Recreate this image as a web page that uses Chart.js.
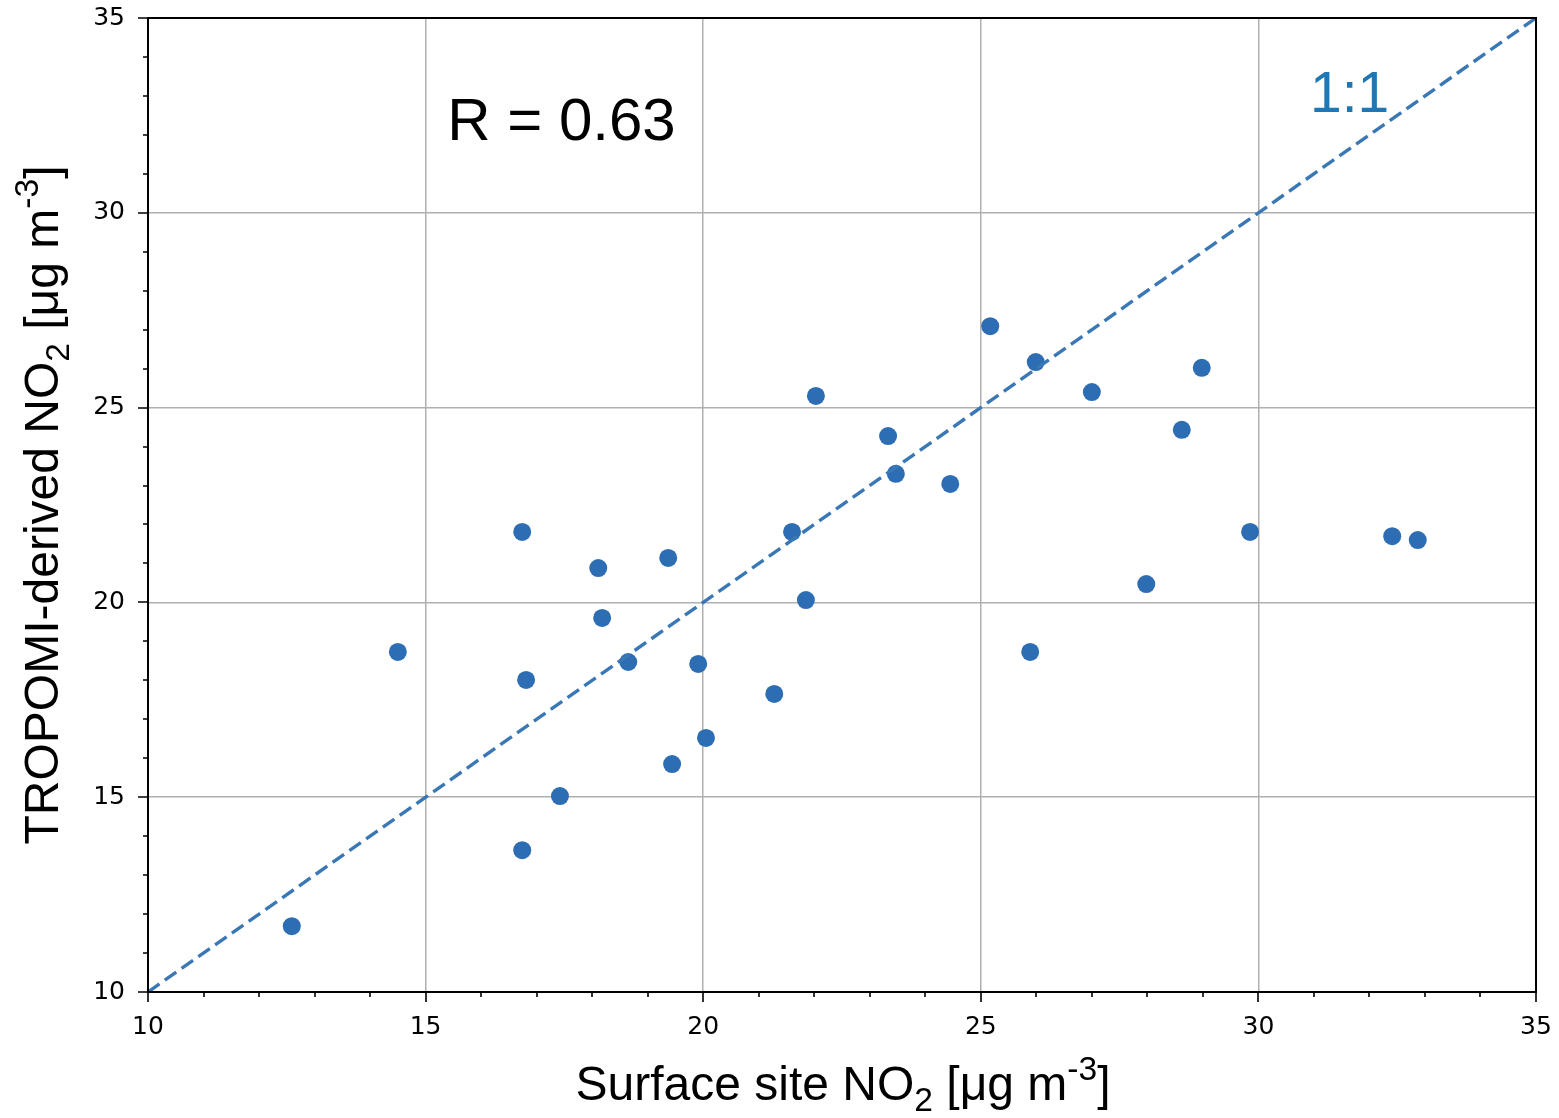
<!DOCTYPE html>
<html>
<head>
<meta charset="utf-8">
<script src="https://cdn.jsdelivr.net/npm/chart.js@4/dist/chart.umd.min.js"></script>
<style>
html, body { margin: 0; padding: 0; background: #fff; }
#caixa { width: 1559px; height: 1118px; }
</style>
</head>
<body>
<div id="caixa"><canvas id="grafico" width="1559" height="1118"></canvas></div>
<script>
// dados
const superficie = [12.59, 14.50, 16.74, 16.81, 16.74, 17.42, 18.11, 18.18, 18.65, 19.37,
    19.44, 19.91, 20.05, 21.28, 21.60, 21.85, 22.03, 23.33, 23.47, 24.45,
    25.17, 25.89, 25.99, 27.00, 27.98, 28.62, 28.98, 29.85, 32.41, 32.87];
const tropomi = [11.69, 18.73, 21.81, 18.01, 13.64, 15.03, 20.88, 19.60, 18.47, 21.14,
    15.85, 18.42, 16.52, 17.65, 21.81, 20.06, 25.30, 24.27, 23.30, 23.04,
    27.09, 18.73, 26.17, 25.40, 20.47, 24.43, 26.02, 21.81, 21.70, 21.60];
const linha11 = [10, 35];
const marcasEixo = [10, 15, 20, 25, 30, 35];
const textoR = 'R = 0.63';
const texto11 = '1:1';

const AZUL = '#2c6db3';
const FONTE = '"Liberation Sans", Arial, sans-serif';

// texto com subscrito / sobrescrito
function desenharRico(ctx, partes, x, y, tam) {
    const medir = p => {
        ctx.font = (p.sub || p.sup ? tam * 0.7 : tam) + 'px ' + FONTE;
        return ctx.measureText(p.t).width;
    };
    let total = 0;
    partes.forEach(p => total += medir(p));
    let cx = x - total / 2;
    ctx.textAlign = 'left';
    ctx.textBaseline = 'alphabetic';
    partes.forEach(p => {
        const w = medir(p);
        let dy = 0;
        if (p.sub) dy = tam * 0.22;
        if (p.sup) dy = -tam * 0.42;
        ctx.fillText(p.t, cx, y + dy);
        cx += w;
    });
}

const extras = {
    id: 'extras',
    afterDraw(chart) {
        const ctx = chart.ctx;
        const a = chart.chartArea;
        const sx = chart.scales.x, sy = chart.scales.y;
        ctx.save();
        // moldura
        ctx.strokeStyle = '#000';
        ctx.lineWidth = 2;
        ctx.strokeRect(a.left, a.top, a.right - a.left, a.bottom - a.top);
        // marcas maiores e menores
        ctx.lineWidth = 1.6;
        ctx.beginPath();
        sx.ticks.forEach(t => {
            const px = Math.round(sx.getPixelForValue(t.value));
            const len = t.value % 5 === 0 ? 10 : 5;
            ctx.moveTo(px, a.bottom); ctx.lineTo(px, a.bottom + len);
        });
        sy.ticks.forEach(t => {
            const py = Math.round(sy.getPixelForValue(t.value));
            const len = t.value % 5 === 0 ? 10 : 5;
            ctx.moveTo(a.left, py); ctx.lineTo(a.left - len, py);
        });
        ctx.stroke();

        // anotações
        ctx.fillStyle = '#000';
        ctx.font = '60px ' + FONTE;
        ctx.textAlign = 'left';
        ctx.textBaseline = 'alphabetic';
        ctx.fillText(textoR, sx.getPixelForValue(15.39), sy.getPixelForValue(31.87));
        ctx.fillStyle = '#1f77b4';
        ctx.font = '57px ' + FONTE;
        ctx.fillText(texto11, sx.getPixelForValue(30.93), sy.getPixelForValue(32.6));

        // títulos dos eixos
        ctx.fillStyle = '#000';
        desenharRico(ctx, [
            { t: 'Surface site NO' }, { t: '2', sub: true }, { t: ' [μg m' }, { t: '-3', sup: true }, { t: ']' }
        ], (a.left + a.right) / 2 + 1, 1100, 48);
        ctx.translate(58, (a.top + a.bottom) / 2);
        ctx.rotate(-Math.PI / 2);
        desenharRico(ctx, [
            { t: 'TROPOMI-derived NO' }, { t: '2', sub: true }, { t: ' [μg m' }, { t: '-3', sup: true }, { t: ']' }
        ], 0, 0, 48);
        ctx.restore();
    }
};

const gradeCor = c => (c.tick && c.tick.value % 5 === 0) ? '#b0b0b0' : 'rgba(0,0,0,0)';

new Chart(document.getElementById('grafico').getContext('2d'), {
    type: 'scatter',
    data: {
        datasets: [
            {
                type: 'line',
                data: linha11.map(v => ({ x: v, y: v })),
                borderColor: '#3a78b5',
                borderWidth: 3.4,
                borderDash: [14, 6.5],
                pointRadius: 0,
                fill: false,
                order: 1
            },
            {
                data: superficie.map((v, i) => ({ x: v, y: tropomi[i] })),
                backgroundColor: AZUL,
                borderColor: AZUL,
                borderWidth: 0,
                pointRadius: 9,
                order: 2
            }
        ]
    },
    options: {
        responsive: false,
        animation: false,
        events: [],
        layout: { padding: { top: 18, right: 23, left: 0, bottom: 0 } },
        plugins: { legend: { display: false }, tooltip: { enabled: false } },
        scales: {
            x: {
                type: 'linear', min: 10, max: 35,
                afterFit: s => { s.height = 126; s.paddingLeft = 0; s.paddingRight = 0; },
                border: { display: false },
                grid: { color: gradeCor, lineWidth: 1.5, drawTicks: false },
                ticks: {
                    stepSize: 1, autoSkip: false, maxRotation: 0, padding: 20,
                    color: '#000', font: { family: '"DejaVu Sans"', size: 25 },
                    callback: v => marcasEixo.includes(v) ? v : ''
                }
            },
            y: {
                type: 'linear', min: 10, max: 35,
                afterFit: s => { s.width = 148; s.paddingTop = 0; s.paddingBottom = 0; },
                border: { display: false },
                grid: { color: gradeCor, lineWidth: 1.5, drawTicks: false },
                ticks: {
                    stepSize: 1, autoSkip: false, padding: 23,
                    color: '#000', font: { family: '"DejaVu Sans"', size: 25 },
                    callback: v => marcasEixo.includes(v) ? v : ''
                }
            }
        }
    },
    plugins: [extras]
});
</script>
</body>
</html>
